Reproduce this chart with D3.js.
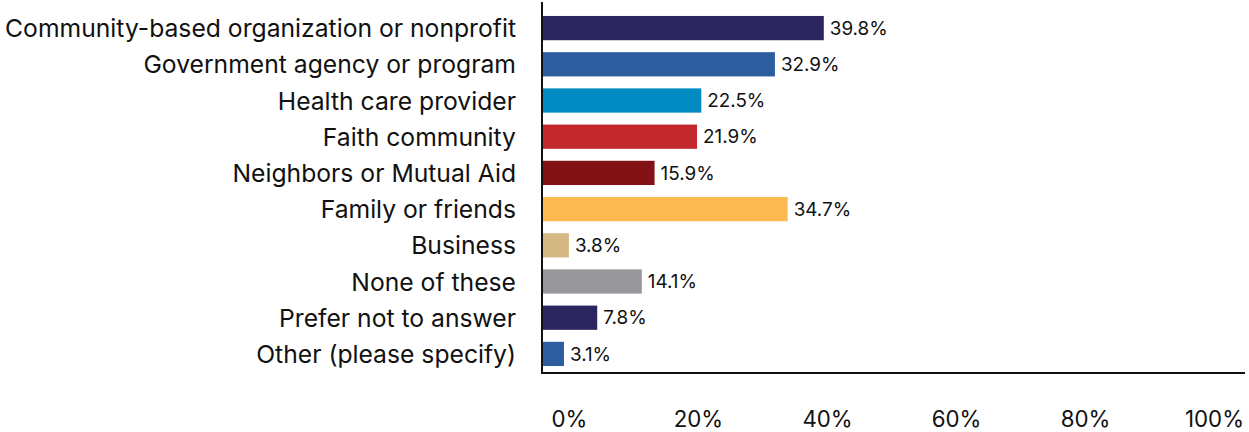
<!DOCTYPE html>
<html>
<head>
<meta charset="utf-8">
<script src="https://cdn.jsdelivr.net/npm/d3@7"></script>
<style>
  html, body { margin: 0; padding: 0; background: #fff; }
  svg { display: block; }
  text { font-family: "Inter", "Lato", sans-serif; fill: #111; }
</style>
</head>
<body>
<svg id="chart" width="1249" height="432"></svg>
<script>
// Sources of help (share of respondents, %)
const categories = [
  "Community-based organization or nonprofit",
  "Government agency or program",
  "Health care provider",
  "Faith community",
  "Neighbors or Mutual Aid",
  "Family or friends",
  "Business",
  "None of these",
  "Prefer not to answer",
  "Other (please specify)"
];
const values = [39.8, 32.9, 22.5, 21.9, 15.9, 34.7, 3.8, 14.1, 7.8, 3.1];
const colors = [
  "#2a255f", "#2b5d9f", "#008bc2", "#c4282f", "#831217",
  "#fdba50", "#d5b985", "#98989c", "#2a255f", "#2b5d9f"
];
const tickValues = [0, 20, 40, 60, 80, 100];

const svg = d3.select("#chart");

const x = d3.scaleLinear().domain([0, 100]).range([542, 1250]);
const y = d3.scaleBand()
  .domain(categories)
  .range([10, 372])
  .paddingInner(0.33)
  .paddingOuter(0.165);

// tick labels sit on their own evenly spaced row below the plot
const xTicks = d3.scaleLinear().domain([0, 100]).range([569, 1214]);

// resize a text group's font so a reference string spans a given width
function fitFont(sel, sample, target, start) {
  const probe = svg.append("text").style("font-size", start + "px").text(sample);
  const w = probe.node().getComputedTextLength();
  probe.remove();
  const size = start * target / w;
  sel.style("font-size", size + "px");
  return size;
}

// bars
svg.append("g")
  .selectAll("rect")
  .data(values)
  .join("rect")
  .attr("x", x(0))
  .attr("y", (d, i) => y(categories[i]))
  .attr("width", d => x(d) - x(0))
  .attr("height", y.bandwidth())
  .attr("fill", (d, i) => colors[i]);

// value labels
const vl = svg.append("g")
  .selectAll("text")
  .data(values)
  .join("text")
  .attr("x", d => x(d) + 6)
  .attr("y", (d, i) => y(categories[i]) + y.bandwidth() / 2)
  .attr("dy", "0.36em")
  .text(d => d.toFixed(1) + "%");
fitFont(vl, "39.8%", 58, 17);

// category labels
const cl = svg.append("g")
  .selectAll("text")
  .data(categories)
  .join("text")
  .attr("x", 516)
  .attr("y", d => y(d) + y.bandwidth() / 2)
  .attr("dy", "0.37em")
  .attr("text-anchor", "end")
  .text(d => d);
fitFont(cl, categories[0], 511, 22);

// axis lines
svg.append("line")
  .attr("x1", x(0)).attr("x2", x(0))
  .attr("y1", 2).attr("y2", 373.5)
  .attr("stroke", "#111").attr("stroke-width", 2);
svg.append("line")
  .attr("x1", x(0) - 1).attr("x2", 1245)
  .attr("y1", 373).attr("y2", 373)
  .attr("stroke", "#111").attr("stroke-width", 2);

// tick labels
const axis = svg.append("g")
  .attr("transform", "translate(0,427)")
  .call(d3.axisBottom(xTicks).tickValues(tickValues).tickSize(0).tickPadding(0)
    .tickFormat(d => d + "%"));
axis.select(".domain").remove();
const tl = axis.selectAll("text")
  .attr("y", 0).attr("dy", 0)
  .attr("font-family", null)
  .style("fill", "#111");
fitFont(tl, "100%", 59, 20);
</script>
</body>
</html>
